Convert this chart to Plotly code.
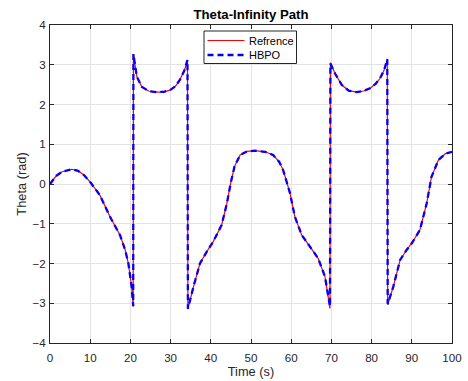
import plotly.graph_objects as go

# Time samples (s) and heading angle (rad) for the reference infinity path
time_s = [0, 1.5, 3, 5.4, 7, 8.5, 10, 12.4, 14.9, 17.4, 18.7, 19.5, 20.3, 20.7,
          20.75, 21.6, 22.8, 24.5, 26.5, 28.3, 29.85, 31.2, 32.3, 33.4, 34.2,
          34.3, 35.7, 37.3, 39.0, 40.6, 42.7, 44.0, 45.0, 45.9, 47.3, 49, 51.0,
          53.5, 55.5, 57, 58.0, 59.7, 60.9, 62.6, 64.7, 66.7, 68.4, 69.65,
          69.75, 70.9, 72.6, 74.3, 76.3, 78, 79.6, 81, 82.1, 83.1, 83.9,
          84.0, 85.4, 87.1, 88.7, 90.0, 92.0, 93.7, 94.9, 96.6, 98.3, 100]

theta_ref = [0, 0.2, 0.31, 0.37, 0.33, 0.22, 0.05, -0.28, -0.82, -1.28, -1.66, -2.0, -2.58, -3.09,
             3.27, 2.70, 2.45, 2.34, 2.31, 2.32, 2.36, 2.46, 2.62, 2.85, 3.10,
             -3.15, -2.58, -2.0, -1.70, -1.45, -1.03, -0.49, 0.05, 0.44, 0.73, 0.82, 0.84,
             0.81, 0.73, 0.56, 0.35, -0.23, -0.82, -1.28, -1.58, -1.87, -2.33, -3.13,
             3.05, 2.78, 2.49, 2.35, 2.31, 2.34, 2.41, 2.52, 2.66, 2.86, 3.12,
             -3.04, -2.58, -1.91, -1.66, -1.49, -1.16, -0.49, 0.18, 0.60, 0.76, 0.81]

theta_hbpo = [0, 0.2, 0.31, 0.37, 0.33, 0.22, 0.05, -0.28, -0.82, -1.28, -1.66, -2.0, -2.58, -3.07,
              3.27, 2.70, 2.45, 2.34, 2.31, 2.32, 2.36, 2.46, 2.62, 2.85, 3.12,
              -3.14, -2.58, -2.0, -1.70, -1.45, -1.03, -0.49, 0.05, 0.44, 0.73, 0.82, 0.84,
              0.81, 0.73, 0.56, 0.35, -0.23, -0.82, -1.28, -1.58, -1.87, -2.33, -3.08,
              3.03, 2.78, 2.49, 2.35, 2.31, 2.34, 2.41, 2.52, 2.66, 2.86, 3.14,
              -3.02, -2.58, -1.91, -1.66, -1.49, -1.16, -0.49, 0.18, 0.60, 0.76, 0.81]

series_names = ["Refrence", "HBPO"]

W, H = 468, 381
ML, MR, MT, MB = 50, 16, 25, 38
PW, PH = W - ML - MR, H - MT - MB

font = "Liberation Sans, Arial, sans-serif"
axis_color = "#262626"
grid_color = "#e3e3e3"

red_line = dict(color="#ff0000", width=1.2)
blue_line = dict(color="#0000ff", width=2.3, dash="6px,4px")

fig = go.Figure()
fig.add_trace(go.Scatter(x=time_s, y=theta_ref, mode="lines", name=series_names[0],
                         line=red_line, showlegend=False))
fig.add_trace(go.Scatter(x=time_s, y=theta_hbpo, mode="lines", name=series_names[1],
                         line=blue_line, showlegend=False))

axis_common = dict(showline=True, linecolor=axis_color, linewidth=1, mirror="ticks",
                   ticks="inside", ticklen=4, tickcolor=axis_color, automargin=False,
                   showgrid=True, gridcolor=grid_color, gridwidth=1, zeroline=False,
                   tickfont=dict(family=font, size=11.6, color=axis_color))

fig.update_xaxes(range=[0, 100], dtick=10, tick0=0, ticklabelstandoff=4,
                 title=dict(text="Time (s)", font=dict(family=font, size=12.8, color=axis_color),
                            standoff=4),
                 **axis_common)
fig.update_yaxes(range=[-4, 4], dtick=1, tick0=0, ticklabelstandoff=1,
                 title=dict(text="Theta (rad)", font=dict(family=font, size=12.8, color=axis_color),
                            standoff=2),
                 **axis_common)


def px_x(px):
    return (px - ML) / PW


def px_y(py):
    return (H - MB - py) / PH


# Boxed legend in the upper middle of the axes
fig.add_shape(type="rect", xref="paper", yref="paper",
              x0=px_x(204), x1=px_x(296.5), y0=px_y(63.5), y1=px_y(31),
              line=dict(color=axis_color, width=1), fillcolor="white", layer="above")
for row_y, name, style in [(40.5, series_names[0], red_line), (55, series_names[1], blue_line)]:
    fig.add_shape(type="line", xref="paper", yref="paper",
                  x0=px_x(207.5), x1=px_x(244.5), y0=px_y(row_y), y1=px_y(row_y),
                  line=style, layer="above")
    fig.add_annotation(text=name, xref="paper", yref="paper", x=px_x(247), y=px_y(row_y),
                       xanchor="left", yanchor="middle", showarrow=False,
                       font=dict(family=font, size=11, color="black"))

fig.update_layout(
    width=W, height=H,
    margin=dict(l=ML, r=MR, t=MT, b=MB),
    paper_bgcolor="white", plot_bgcolor="white",
    title=dict(text="<b>Theta-Infinity Path</b>", x=(ML + W - MR) / 2 / W, xanchor="center",
               y=1 - 14.5 / H, yanchor="middle",
               font=dict(family=font, size=13.2, color="black")),
    showlegend=False,
)

fig.write_html("out.html")
